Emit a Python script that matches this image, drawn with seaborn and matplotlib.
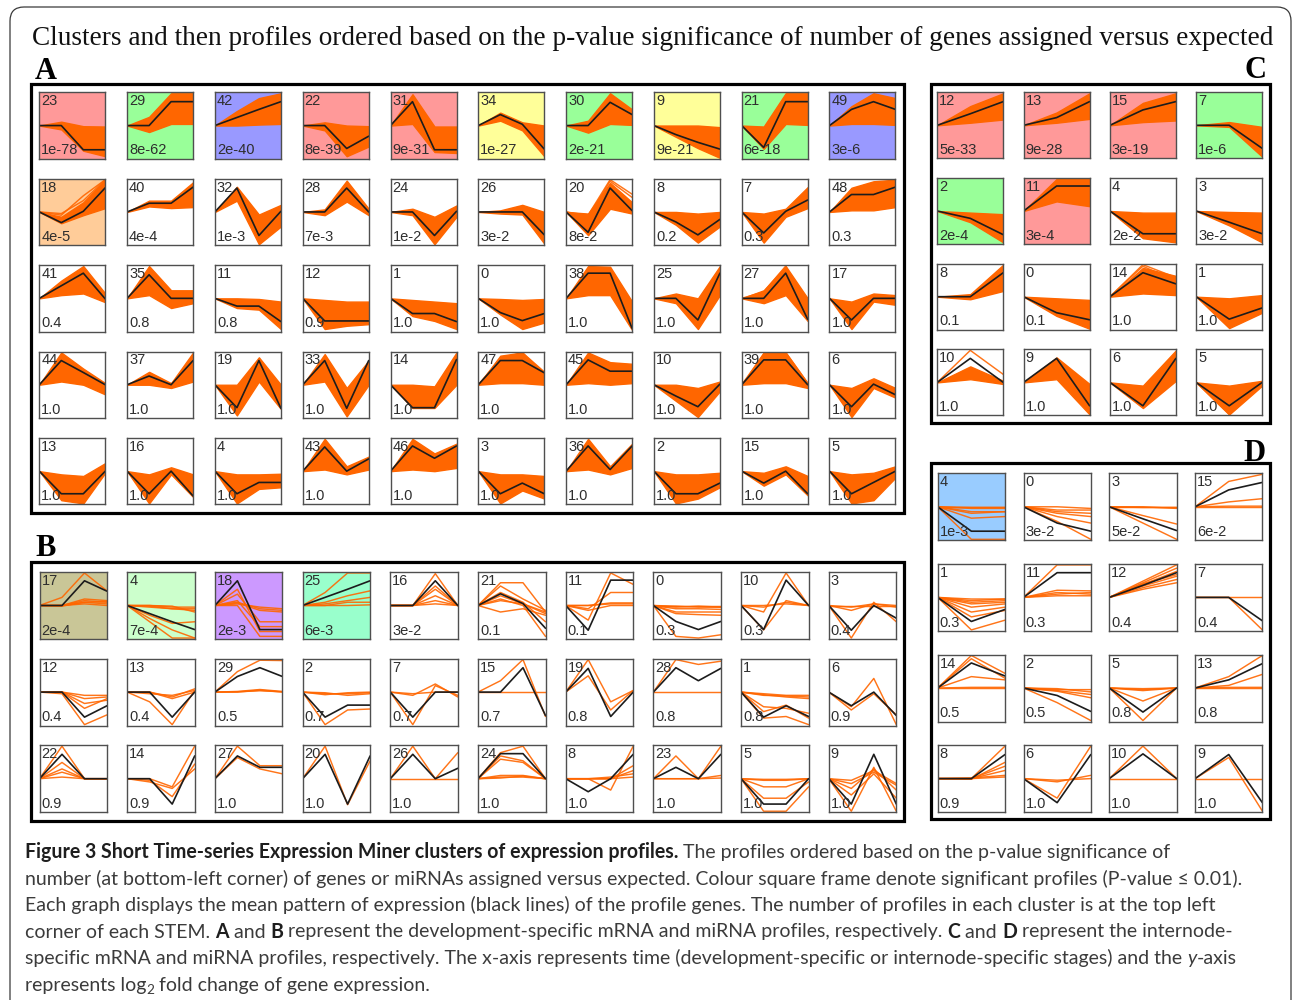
import numpy as np
import pandas as pd
import matplotlib
matplotlib.use("Agg")
import matplotlib.pyplot as plt
from matplotlib.patches import Rectangle, FancyBboxPatch
from matplotlib.transforms import IdentityTransform
import seaborn as sns

# ---------------------------------------------------------------- data
# Panel A: development-specific mRNA profiles (4 time points)
A_IDS = [23, 29, 42, 22, 31, 34, 30, 9, 21, 49,
         18, 40, 32, 28, 24, 26, 20, 8, 7, 48,
         41, 35, 11, 12, 1, 0, 38, 25, 27, 17,
         44, 37, 19, 33, 14, 47, 45, 10, 39, 6,
         13, 16, 4, 43, 46, 3, 36, 2, 15, 5]
A_PVALS = ["1e-78", "8e-62", "2e-40", "8e-39", "9e-31", "1e-27", "2e-21", "9e-21", "6e-18", "3e-6",
           "4e-5", "4e-4", "1e-3", "7e-3", "1e-2", "3e-2", "8e-2", "0.2", "0.3", "0.3",
           "0.4", "0.8", "0.8", "0.9", "1.0", "1.0", "1.0", "1.0", "1.0", "1.0"] + ["1.0"] * 20
A_MEAN = [
    [0, 0, -0.75, -0.75], [0, 0, 0.74, 0.74], [0, 0.25, 0.5, 0.74], [0, 0, -0.71, -0.33], [0, 0.74, -0.75, -0.75],
    [0, 0.34, 0.04, -0.73], [0, 0, 0.72, 0.34], [0, -0.28, -0.52, -0.73], [0, -0.68, 0.74, 0.74], [0, 0.5, 0.74, 0.5],
    [0, -0.33, 0.02, 0.75], [0, 0.27, 0.27, 0.77], [0, 0.74, -0.73, 0.02], [0, 0, 0.74, 0], [0, 0, -0.73, 0.02],
    [0, 0, 0, -0.71], [0, -0.63, 0.74, 0.04], [0, -0.31, -0.71, -0.23], [0, -0.65, 0.02, 0.37], [0, 0.54, 0.54, 0.77],
    [0, 0.39, 0.78, -0.02], [0, 0.73, 0, 0], [0, -0.24, -0.24, -0.72], [0, -0.7, -0.7, -0.7], [0, -0.47, -0.47, -0.72],
    [0, -0.44, -0.69, -0.47], [0, 0.78, 0.78, -0.93], [0, 0, -0.67, 0.78], [0, 0, 0.78, -0.65], [0, -0.67, 0, 0],
    [0, 0.75, 0.38, 0], [0, 0.27, 0, 0.75], [0, -0.71, 0.75, -0.73], [0, 0.75, -0.73, 0.75], [0, -0.71, -0.71, 0.78],
    [0, 0.75, 0.75, 0.37], [0, 0.77, 0.42, 0.42], [0, -0.35, -0.68, 0.02], [0, 0.77, 0.77, 0], [0, -0.68, 0.02, -0.31],
    [0, -0.7, -0.7, 0], [0, -0.7, 0, -0.77], [0, -0.7, -0.35, -0.35], [0, 0.75, 0, 0.38], [0, 0.78, 0.4, 0.78],
    [0, -0.7, -0.37, -0.7], [0, 0.78, 0.05, 0.78], [0, -0.7, -0.7, -0.37], [0, -0.37, 0, -0.7], [0, -0.7, -0.35, 0],
]
A_UPPER = [
    [0, 0.12, -0.02, -0.03], [0, 0.27, 1.0, 1.0], [0, 0.45, 0.85, 1.0], [0, 0.1, 0.0, -0.02], [0, 0.97, -0.03, -0.03],
    [0, 0.4, 0.1, 0.0], [0, 0.15, 1.0, 0.5], [0, 0.0, 0.0, -0.05], [0, -0.03, 1.0, 1.0], [0, 0.6, 1.0, 0.85],
    [0, -0.15, 0.3, 1.0], [0, 0.35, 0.35, 0.92], [0, 0.78, -0.08, 0.22], [0, 0.08, 0.97, 0.1], [0, 0.1, -0.15, 0.2],
    [0, 0.05, 0.22, 0.0], [0, -0.05, 0.9, 0.3], [0, 0.0, -0.05, 0.0], [0, -0.05, 0.1, 0.77], [0, 0.75, 0.95, 1.0],
    [0, 0.55, 1.0, 0.15], [0, 1.0, 0.25, 0.25], [0, 0.0, -0.02, -0.1], [0, -0.05, -0.1, -0.1], [0, -0.05, -0.1, -0.15],
    [0, -0.02, -0.05, -0.02], [0, 1.0, 0.98, -0.1], [0, 0.15, 0.0, 1.0], [0, 0.25, 1.0, 0.0], [0, -0.1, 0.15, 0.1],
    [0, 1.0, 0.5, 0.05], [0, 0.4, 0.05, 1.0], [0, 0.0, 0.85, 0.0], [0, 0.95, -0.1, 0.75], [0, 0.0, -0.05, 1.0],
    [0, 0.9, 1.0, 0.4], [0, 1.0, 0.7, 0.65], [0, 0.0, -0.1, 0.1], [0, 1.0, 1.0, 0.05], [0, -0.1, 0.2, -0.1],
    [0, -0.1, -0.15, 0.25], [0, -0.1, 0.12, -0.1], [0, -0.1, -0.1, -0.08], [0, 1.0, 0.15, 0.45], [0, 1.0, 0.55, 0.85],
    [0, -0.1, -0.1, -0.15], [0, 1.0, 0.15, 0.85], [0, -0.1, -0.1, -0.05], [0, -0.05, 0.15, -0.15], [0, -0.1, -0.05, 0.15],
]
A_LOWER = [
    [0, -0.12, -0.78, -0.95], [0, -0.2, 0.05, 0.05], [0, 0.0, 0.03, 0.05], [0, -0.15, -0.95, -0.65], [0, 0.05, -0.82, -0.85],
    [0, 0.15, -0.15, -0.95], [0, -0.22, 0.05, 0.02], [0, -0.35, -0.7, -1.0], [0, -0.72, 0.05, 0.02], [0, 0.05, 0.05, 0.02],
    [0, -0.35, -0.1, 0.12], [0, 0.17, 0.12, 0.15], [0, 0.35, -1.0, -0.45], [0, -0.1, 0.32, -0.1], [0, -0.1, -1.0, -0.15],
    [0, -0.05, -0.08, -0.98], [0, -0.72, 0.1, -0.05], [0, -0.4, -0.95, -0.45], [0, -0.95, -0.15, 0.12], [0, 0.05, 0.05, 0.15],
    [0, 0.1, 0.15, -0.12], [0, 0.1, -0.3, -0.15], [0, -0.3, -0.35, -0.95], [0, -0.95, -0.85, -0.8], [0, -0.55, -0.7, -0.95],
    [0, -0.5, -0.95, -0.75], [0, 0.1, 0.1, -0.98], [0, -0.15, -0.95, 0.1], [0, -0.15, 0.1, -0.7], [0, -0.95, -0.1, -0.2],
    [0, 0.1, 0.0, -0.3], [0, 0.0, -0.1, 0.1], [0, -0.95, 0.1, -0.75], [0, 0.1, -0.98, 0.0], [0, -0.72, -0.72, 0.0],
    [0, 0.05, 0.05, 0.0], [0, 0.05, 0.0, 0.05], [0, -0.5, -1.0, -0.2], [0, 0.05, 0.05, -0.1], [0, -1.0, -0.1, -0.4],
    [0, -0.9, -1.0, -0.05], [0, -1.0, -0.1, -0.8], [0, -1.0, -0.55, -0.5], [0, 0.05, -0.1, 0.05], [0, 0.05, 0.0, 0.1],
    [0, -1.0, -0.6, -0.85], [0, 0.05, -0.1, 0.1], [0, -1.0, -0.85, -0.5], [0, -0.45, -0.1, -0.75], [0, -1.0, -0.9, -0.2],
]
# a few genes standing out of the dense bundles
A_EXTRA = {18: [[0, -0.1, 0.5, 1.0], [0, -0.05, 0.35, 1.0]],
           20: [[0, -0.1, 1.0, 0.55], [0, -0.15, 0.95, 0.45]],
           47: [[0, 0.8, 1.0, 0.3]],
           39: [[0, 0.95, 1.0, 0.05]],
           27: [[0, 0.2, 1.0, -0.6]]}

# Panel B: development-specific miRNA profiles (4 time points)
B_IDS = [17, 4, 18, 25, 16, 21, 11, 0, 10, 3,
         12, 13, 29, 2, 7, 15, 19, 28, 1, 6,
         22, 14, 27, 20, 26, 24, 8, 23, 5, 9]
B_PVALS = ["2e-4", "7e-4", "2e-3", "6e-3", "3e-2", "0.1", "0.1", "0.3", "0.3", "0.4",
           "0.4", "0.4", "0.5", "0.7", "0.7", "0.7", "0.8", "0.8", "0.8", "0.9",
           "0.9", "0.9", "1.0", "1.0", "1.0", "1.0", "1.0", "1.0", "1.0", "1.0"]
B_MEAN = [
    [0, 0, 0.76, 0.44], [0, -0.25, -0.5, -0.74], [0, 0.76, -0.74, -0.74], [0, 0.25, 0.5, 0.76], [0, 0, 0.76, 0],
    [0, 0.36, 0.06, -0.7], [0, -0.76, 0.78, 0.78], [0, -0.49, -0.74, -0.49], [0, -0.74, 0.78, 0], [0, -0.76, 0, -0.39],
    [0, 0, -0.77, -0.42], [0, 0, -0.77, 0], [0, 0.48, 0.75, 0.48], [0, -0.77, -0.4, -0.4], [0, -0.77, 0, 0],
    [0, 0, 0.75, -0.72], [0, 0.73, -0.75, 0], [0, 0.75, 0.35, 0.73], [0, -0.77, -0.42, -0.75], [0, -0.42, 0, -0.72],
    [0, 0.75, 0, 0], [0, 0, -0.78, 0.7], [0, 0.7, 0.35, 0.35], [0, 0.75, -0.78, 0.7], [0, 0.75, 0, 0.32],
    [0, 0.77, 0.77, 0], [0, -0.4, 0, 0.75], [0, 0.35, 0, 0.75], [0, -0.78, -0.78, 0], [0, -0.78, 0.75, -0.78],
]
B_GENES = [
    [[0, 0.25, 1.0, 0.45], [0, 0, 0.2, 0.15], [0, 0, 0.1, 0.05], [0, 0, 0.15, 0.1], [0, 0, 0.05, 0.0], [0, -0.02, 0.1, 0.12]],
    [[0, 0, -0.05, -0.05], [0, -0.02, -0.1, -0.15], [0, 0, -0.02, -0.2], [0, -0.05, -0.1, -0.1],
     [0, -0.4, -0.75, -1.0], [0, -0.3, -0.55, -0.5], [0, -0.5, -1.0, -1.0]],
    [[0, 0.5, -0.8, -0.8], [0, 0.35, -0.5, -0.5], [0, 0.1, -0.1, -0.15], [0, 0.15, -0.65, -0.65],
     [0, 0, -0.95, -0.95], [0, 0.05, -0.05, -0.1], [0, 0.08, -0.15, -0.2]],
    [[0, 0.4, 1.0, 1.0], [0, 0.1, 0.3, 0.45], [0, 0.05, 0.15, 0.25], [0, 0, 0, 0.02], [0, 0, 0.1, 0.1]],
    [[0, 0, 0.98, 0], [0, 0, 0.5, 0], [0, 0, 0.3, 0], [0, 0, 0.15, 0], [0, 0, 0.05, 0], [0, 0, 0.6, 0]],
    [[0, 0.7, 0.7, -0.2], [0, 0.6, 0.2, -0.15], [0, 0.4, 0.1, -0.5], [0, 0.2, 0.0, -0.95],
     [0, 0.3, 0.05, -0.2], [0, -0.2, -0.1, -0.3], [0, 0.15, 0.05, -0.25]],
    [[0, -0.45, 1.0, 0.65], [0, -0.1, 0.4, 0.4], [0, 0, 0.05, 0.05], [0, 0, 0.08, 0.08], [0, -0.15, 0.0, 0.0]],
    [[0, -0.02, -0.05, -0.05], [0, -0.1, -0.1, -0.12], [0, -0.2, -0.2, -0.2], [0, -0.25, -0.28, -0.3],
     [0, -0.95, -1.0, -0.9], [0, 0, 0, 0], [0, -0.05, -0.02, -0.05]],
    [[0, -0.2, 1.0, 0], [0, -0.05, 0.1, 0], [0, -0.75, 0.15, 0], [0, 0, 0.05, 0]],
    [[0, -1.0, 0.1, -0.5], [0, -0.15, 0.05, 0], [0, 0, 0, 0], [0, -0.05, 0.05, -0.05]],
    [[0, 0, -0.1, -0.1], [0, 0, -0.2, -0.15], [0, 0, -0.35, -0.25], [0, -0.05, -1.0, -0.7], [0, 0, -0.5, -0.2]],
    [[0, -0.3, -1.0, 0.05], [0, 0, -0.2, 0], [0, -0.05, -0.1, 0.05], [0, 0, -0.15, 0.1]],
    [[0, 0.63, 0.98, 0.97], [0, 0.02, 0.08, 0.02], [0, 0.01, 0.04, 0.01], [0, 0, 0.06, 0.0]],
    [[0, -1.0, -0.55, -0.52], [0, -0.05, -0.05, -0.02], [0, -0.08, -0.02, 0], [0, -0.02, -0.1, -0.05]],
    [[0, -1.0, 0.2, -0.1], [0, -0.05, 0, 0], [0, -0.1, 0.25, -0.15]],
    [[0, 0.35, 1.0, -0.75], [0, 0, 0, 0]],
    [[0, 1.0, -0.3, 0.05], [0, 0.5, -0.55, 0.05]],
    [[0, 1.0, 0.85, 0.95], [0, 0, 0, 0]],
    [[0, -0.05, -0.1, -0.1], [0, -0.1, -0.12, -0.15], [0, -0.08, -0.15, -0.2], [0, -0.45, -0.5, -0.65],
     [0, -0.8, -0.75, -1.0], [0, -0.6, -0.4, -0.8]],
    [[0, -0.45, 0.42, -1.0], [0, -0.55, -0.05, -0.7]],
    [[0, 1.0, 0, 0], [0, 0.5, 0, 0], [0, 0.2, 0, 0], [0, 0.3, 0, 0], [0, 0.05, 0, 0]],
    [[0, 0, -0.25, 1.0], [0, -0.05, -0.55, 0.45], [0, -0.1, -0.3, 0.3]],
    [[0, 1.0, 0.4, 0.4], [0, 0.65, 0.3, 0.15]],
    [[0, 1.0, -0.8, 0.55]],
    [[0, 1.0, 0, 0.8], [0, 0.0, 0.0, 0.0]],
    [[0, 0.8, 1.0, 0], [0, 0.6, 0.5, 0], [0, 0.7, 0.55, 0], [0, 0.05, 0.05, 0], [0, 0.1, 0.1, 0], [0, 0.02, 0.08, 0]],
    [[0, 0, -0.35, 1.0], [0, 0, 0, 0.4], [0, 0, 0, 0.25], [0, 0, 0.05, 0.15], [0, 0, 0, 0.05]],
    [[0, 0.7, 0, 1.0], [0, 0, 0, 0.1], [0, 0, 0, 0.02]],
    [[0, -1.0, -1.0, -0.25], [0, -0.6, -0.6, -0.1], [0, -0.25, -0.25, 0], [0, -0.05, -0.05, 0], [0, -0.02, -0.02, 0]],
    [[0, -1.0, 0.35, -1.0], [0, -0.3, 0.3, -0.35], [0, -0.15, 0.2, -0.2], [0, -0.05, 0.25, -0.15], [0, -0.5, 0.15, -0.6]],
]

# Panel C: internode-specific mRNA profiles (3 stages)
C_IDS = [12, 13, 15, 7, 2, 11, 4, 3, 8, 0, 14, 1, 10, 9, 6, 5]
C_PVALS = ["5e-33", "9e-28", "3e-19", "1e-6", "2e-4", "3e-4", "2e-2", "3e-2",
           "0.1", "0.1", "1.0", "1.0", "1.0", "1.0", "1.0", "1.0"]
C_MEAN = [[0, 0.36, 0.74], [0, 0.24, 0.74], [0, 0.48, 0.74], [0, 0, -0.72],
          [0, -0.23, -0.74], [0, 0.78, 0.78], [0, -0.71, -0.71], [0, -0.35, -0.71],
          [0, 0, 0.75], [0, -0.5, -0.72], [0, 0.75, 0.4], [0, -0.7, -0.35],
          [0, 0.75, 0], [0, 0.75, -0.73], [0, -0.73, 0.75], [0, -0.73, 0]]
C_UPPER = [[0, 0.6, 1.0], [0, 0.4, 1.0], [0, 0.7, 1.0], [0, 0.1, -0.05],
           [0, -0.05, -0.1], [0, 1.0, 1.0], [0, -0.05, -0.05], [0, -0.03, -0.05],
           [0, 0.08, 1.0], [0, -0.05, -0.1], [0, 0.9, 0.65], [0, -0.05, 0.05],
           [0, 0.5, 0.05], [0, 0.78, -0.05], [0, -0.1, 1.0], [0, -0.1, 0.05]]
C_LOWER = [[0, 0.08, 0.18], [0, 0.08, 0.2], [0, 0.1, 0.15], [0, -0.05, -0.98],
           [0, -0.35, -0.98], [0, 0.3, 0.15], [0, -0.85, -0.98], [0, -0.45, -0.98],
           [0, -0.08, 0.18], [0, -0.6, -1.0], [0, 0.1, 0.05], [0, -0.98, -0.5],
           [0, 0.1, -0.05], [0, 0.1, -1.0], [0, -0.8, 0.05], [0, -1.0, -0.1]]
C_EXTRA = {10: [[0, 1.0, 0.25]], 14: [[0, 1.0, 0.6], [0, 0.95, 0.5]], 5: [[0, -1.0, -0.05]]}

# Panel D: internode-specific miRNA profiles (3 stages)
D_IDS = [4, 0, 3, 15, 1, 11, 12, 7, 14, 2, 5, 13, 8, 6, 10, 9]
D_PVALS = ["1e-3", "3e-2", "5e-2", "6e-2", "0.3", "0.3", "0.4", "0.4",
           "0.5", "0.5", "0.8", "0.8", "0.9", "1.0", "1.0", "1.0"]
D_MEAN = [[0, -0.75, -0.75], [0, -0.5, -0.75], [0, -0.37, -0.73], [0, 0.52, 0.75],
          [0, -0.74, -0.37], [0, 0.76, 0.76], [0, 0.37, 0.76], [0, 0, -0.72],
          [0, 0.77, 0.37], [0, -0.23, -0.72], [0, -0.74, 0], [0, 0.25, 0.75],
          [0, 0, 0.74], [0, -0.74, 0.74], [0, 0.76, 0], [0, 0.74, -0.74]]
D_GENES = [
    [[0, -0.02, -0.02], [0, -0.05, -0.05], [0, -0.15, -0.15], [0, -0.35, -0.3], [0, -1.0, -1.0], [0, -0.2, -0.15], [0, 0, 0]],
    [[0, -0.1, -0.1], [0, -0.2, -0.3], [0, -0.3, -0.5], [0, -0.45, -1.0], [0, 0, -0.05], [0, -0.15, -0.2]],
    [[0, -0.5, -1.0], [0, -0.27, -0.53], [0, 0, -0.05], [0, -0.02, -0.02], [0, 0, 0]],
    [[0, 0.78, 1.0], [0, 0.15, 0.25], [0, 0, 0], [0, 0.02, 0.02]],
    [[0, -1.0, -0.7], [0, -0.1, -0.05], [0, -0.2, -0.15], [0, -0.3, -0.2], [0, -0.45, -0.3],
     [0, -0.6, -0.4], [0, -0.05, -0.05], [0, -0.15, -0.1]],
    [[0, 1.0, 1.0], [0, 0.22, 0.2], [0, 0.15, 0.1], [0, 0.05, 0.05], [0, 0.1, 0.15]],
    [[0, 0.5, 1.0], [0, 0.45, 0.9], [0, 0.4, 0.8], [0, 0.35, 0.65], [0, 0.3, 0.55], [0, 0.25, 0.45], [0, 0.42, 0.7]],
    [[0, 0, -1.0], [0, 0, 0]],
    [[0, 1.0, 0.45], [0, 0.9, 0.3], [0, 0.35, 0.25], [0, 0, 0], [0, 0.02, 0.02]],
    [[0, -0.45, -1.0], [0, -0.05, -0.05], [0, -0.08, -0.2], [0, -0.1, -0.3], [0, -0.02, -0.12]],
    [[0, -0.05, 0], [0, -0.4, 0], [0, -1.0, 0], [0, -0.08, 0], [0, -0.02, 0]],
    [[0, 0.35, 1.0], [0, 0.08, 0.42], [0, 0, 0], [0, 0.02, 0.02]],
    [[0, 0, 1.0], [0, -0.02, 0.5], [0, 0, 0.25], [0, 0.02, 0.1], [0, 0, 0.05], [0, 0, 0.38]],
    [[0, -0.6, 1.0], [0, -0.1, 0.1], [0, -0.05, 0.0]],
    [[0, 1.0, 0], [0, 0, 0]],
    [[0, 0.65, -1.0], [0, 0, 0]],
]

TITLE = ("Clusters and then profiles ordered based on the p-value significance "
         "of number of genes assigned versus expected")

# ---------------------------------------------------------------- styles
W, H = 1293, 1000
ORANGE = "#FF6600"
MEAN_COLOR = "#1c1c1c"
PINK, GREEN, BLUE, YELLOW, PEACH = "#FF9999", "#99FF99", "#9999FF", "#FFFF99", "#FFCC99"
OLIVE, LIGHTGREEN, PURPLE, MINT, SKY = "#C9C697", "#CCFFCC", "#CC99FF", "#99FFCC", "#99CCFF"

A_BG = [PINK, GREEN, BLUE, PINK, PINK, YELLOW, GREEN, YELLOW, GREEN, BLUE, PEACH] + [None] * 39
B_BG = [OLIVE, LIGHTGREEN, PURPLE, MINT] + [None] * 26
C_BG = [PINK, PINK, PINK, GREEN, GREEN, PINK] + [None] * 10
D_BG = [SKY] + [None] * 15

sns.set_theme(style="white")
plt.rcParams["font.family"] = ["Liberation Sans", "DejaVu Sans"]

fig = plt.figure(figsize=(W / 100, H / 100), dpi=100)
fig.patch.set_facecolor("white")
renderer = fig.canvas.get_renderer()


def px_axes(x, y, w, h):
    return fig.add_axes([x / W, 1 - (y + h) / H, w / W, h / H])


def long_frame(lines, t):
    rows = [(g, ti, v) for g, line in enumerate(lines) for ti, v in zip(t, line)]
    return pd.DataFrame(rows, columns=["gene", "t", "v"])


def draw_profile(ax, t, pid, pval, mean, bg, upper=None, lower=None, genes=None):
    ax.set_facecolor(bg if bg else "white")
    if upper is not None:
        ax.fill_between(t, lower, upper, color=ORANGE, lw=1.0, ec=ORANGE, zorder=1)
    if genes:
        sns.lineplot(data=long_frame(genes, t), x="t", y="v", units="gene", estimator=None,
                     color=ORANGE, lw=1.05, alpha=0.9, ax=ax, legend=False, zorder=2)
    sns.lineplot(data=pd.DataFrame({"t": t, "v": mean}), x="t", y="v",
                 color=MEAN_COLOR, lw=1.2, ax=ax, legend=False, zorder=3)
    ax.set_xlim(0, 1)
    ax.set_ylim(-1.03, 1.03)
    ax.set_xticks([])
    ax.set_yticks([])
    ax.set_xlabel("")
    ax.set_ylabel("")
    for s in ax.spines.values():
        s.set_color("#4f4f4f")
        s.set_linewidth(1.0)
        s.set_zorder(5)
    ax.text(0.03, 0.97, str(pid), transform=ax.transAxes, ha="left", va="top",
            fontsize=10.5, color="#2e2e2e", zorder=6)
    ax.text(0.03, 0.065, pval, transform=ax.transAxes, ha="left", va="baseline",
            fontsize=10.5, color="#2e2e2e", zorder=6)


def draw_group(ids, pvals, means, bgs, n_cols, left0, top0, dx, dy, w, h, t,
               uppers=None, lowers=None, genes=None, extra=None):
    for i, pid in enumerate(ids):
        r, c = divmod(i, n_cols)
        ax = px_axes(left0 + c * dx, top0 + r * dy, w, h)
        g = genes[i] if genes is not None else (extra or {}).get(pid)
        draw_profile(ax, t, pid, pvals[i], means[i], bgs[i],
                     upper=uppers[i] if uppers is not None else None,
                     lower=lowers[i] if lowers is not None else None,
                     genes=g)


T4 = [0, 1 / 3, 2 / 3, 1]
T3 = [0, 0.5, 1]

draw_group(A_IDS, A_PVALS, A_MEAN, A_BG, 10, 39.3, 92.3, 87.8, 86.4, 66, 66.5, T4,
           uppers=A_UPPER, lowers=A_LOWER, extra=A_EXTRA)
draw_group(B_IDS, B_PVALS, B_MEAN, B_BG, 10, 39.5, 572, 87.7, 86.6, 67.5, 67, T4, genes=B_GENES)
draw_group(C_IDS, C_PVALS, C_MEAN, C_BG, 4, 937.3, 92.3, 86.3, 85.7, 66, 66, T3,
           uppers=C_UPPER, lowers=C_LOWER, extra=C_EXTRA)
draw_group(D_IDS, D_PVALS, D_MEAN, D_BG, 4, 937.7, 473.3, 85.8, 90.6, 67.3, 67, T3, genes=D_GENES)


# ---------------------------------------------------------------- frames
def px_rect(x0, y0, x1, y1, lw, color="black"):
    fig.patches.append(Rectangle((x0, H - y1), x1 - x0, y1 - y0, fill=False, lw=lw,
                                 ec=color, transform=IdentityTransform(), figure=fig))


for box in [(31, 84, 904, 513), (31, 562, 904, 821), (931, 84, 1270, 423), (931, 463, 1270, 819)]:
    px_rect(*box, lw=2.3)

fig.patches.append(FancyBboxPatch((10, -30), 1281, H - 7 + 30,
                                  boxstyle="round,pad=0,rounding_size=14", fill=False,
                                  lw=0.9, ec="#3a3a3a", transform=IdentityTransform(), figure=fig))

# panel letters
SERIF = ["Liberation Serif", "DejaVu Serif"]
for letter, x, y, ha in [("A", 35, 79, "left"), ("C", 1266, 78, "right"),
                         ("B", 35, 556, "left"), ("D", 1266, 461, "right")]:
    fig.text(x / W, 1 - y / H, letter, family=SERIF, fontweight="bold", fontsize=22,
             ha=ha, va="baseline", color="black")

# title, sized to span the frame
title = fig.text(32 / W, 1 - 45 / H, TITLE, family=SERIF, fontsize=18, ha="left",
                 va="baseline", color="#111111")
tw = title.get_window_extent(renderer).width
title.set_fontsize(18 * 1241 / tw)

# ---------------------------------------------------------------- caption
CAP_FONT = ["Lato", "DejaVu Sans"]
N, B, I, S = "normal", "bold", "italic", "sub"
CAPTION = [
    [("Figure 3 Short Time-series Expression Miner clusters of expression profiles.", B),
     (" The profiles ordered based on the p-value significance of", N)],
    [("number (at bottom-left corner) of genes or miRNAs assigned versus expected. "
      "Colour square frame denote significant profiles (P-value \u2264 0.01).", N)],
    [("Each graph displays the mean pattern of expression (black lines) of the profile genes. "
      "The number of profiles in each cluster is at the top left", N)],
    [("corner of each STEM. ", N), ("A", B), (" and ", N), ("B", B),
     (" represent the development-specific mRNA and miRNA profiles, respectively. ", N),
     ("C", B), (" and ", N), ("D", B), (" represent the internode-", N)],
    [("specific mRNA and miRNA profiles, respectively. The x-axis represents time "
      "(development-specific or internode-specific stages) and the ", N), ("y", I), ("-axis", N)],
    [("represents log", N), ("2", S), (" fold change of gene expression.", N)],
]


def piece_props(kind, size):
    props = dict(family=CAP_FONT, fontsize=size, color="#3b3b3b")
    if kind == B:
        props.update(fontweight="bold", color="#1e1e1e")
    elif kind == I:
        props.update(fontstyle="italic")
    elif kind == S:
        props.update(fontsize=size * 0.7)
    return props


def text_width(s, props):
    t1 = fig.text(0, 0, s + "|", **props)
    t2 = fig.text(0, 0, "|", **props)
    w = t1.get_window_extent(renderer).width - t2.get_window_extent(renderer).width
    t1.remove()
    t2.remove()
    return w


ref_size = 12
cap_size = ref_size * 1215 / text_width(CAPTION[1][0][0], piece_props(N, ref_size))

for k, line in enumerate(CAPTION):
    x = 25.0
    y = 858 + k * 26.5
    for s, kind in line:
        props = piece_props(kind, cap_size)
        dy = 4 if kind == S else 0
        fig.text(x / W, 1 - (y + dy) / H, s, ha="left", va="baseline", **props)
        x += text_width(s, props)

fig.savefig("out.png", dpi=100, facecolor="white")
